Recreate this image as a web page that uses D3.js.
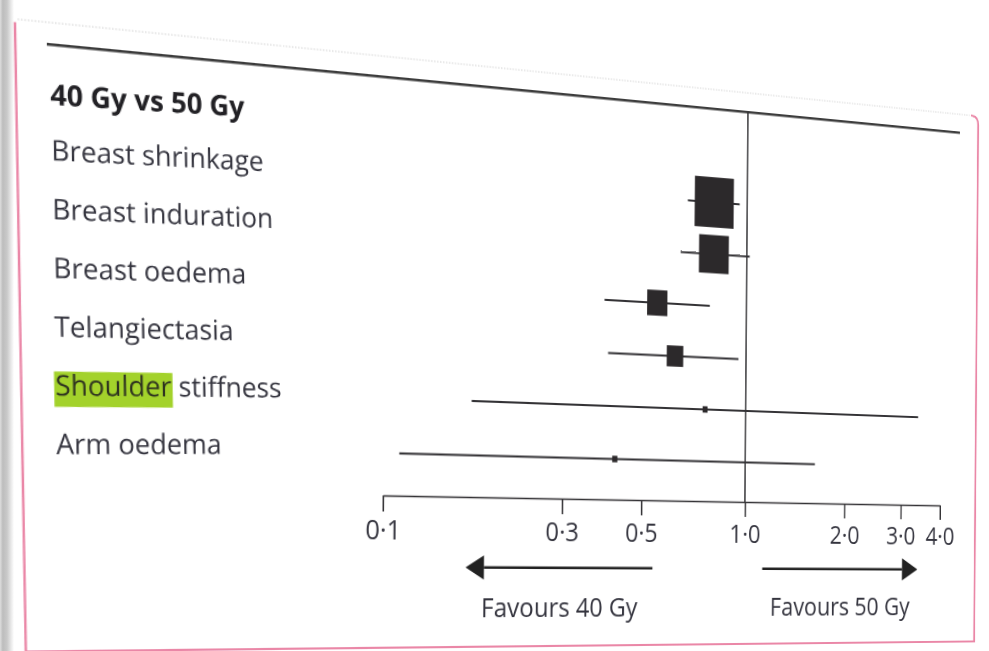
<!DOCTYPE html>
<html>
<head>
<meta charset="utf-8">
<script src="https://cdn.jsdelivr.net/npm/d3@7"></script>
<style>
  html, body { margin: 0; padding: 0; background: #fff; }
  #stage { position: relative; width: 989px; height: 651px; overflow: hidden; background: #fff; }
  #shade { position: absolute; left: 0; top: 0; }
  #page { position: absolute; left: 0; top: 0; transform-origin: 0 0; }
  text { font-family: "Open Sans", "Noto Sans", sans-serif; }
</style>
</head>
<body>
<div id="stage">
  <svg id="shade" width="989" height="651"></svg>
  <svg id="page" width="1060" height="690"></svg>
</div>
<script>
// Late normal-tissue effects, 40 Gy vs 50 Gy: hazard ratios with 95% CI
const comparison = "40 Gy vs 50 Gy";
const outcomes = ["Breast shrinkage", "Breast induration", "Breast oedema", "Telangiectasia", "Shoulder stiffness", "Arm oedema"];
const hazardRatio = [0.80, 0.80, 0.55, 0.62, 0.76, 0.42];
const ciLower = [0.67, 0.64, 0.39, 0.40, 0.17, 0.11];
const ciUpper = [0.95, 1.02, 0.78, 0.95, 3.39, 1.62];
const weights = [24.8, 14.4, 6.35, 4.3, 0.4, 0.4];
const tickValues = [0.1, 0.3, 0.5, 1, 2, 3, 4];
const tickLabels = ["0·1", "0·3", "0·5", "1·0", "2·0", "3·0", "4·0"];
const favourLabels = ["Favours 40 Gy", "Favours 50 Gy"];
const favourSpans = [[0.54, 0.165], [1.13, 3.4]];
const highlightWord = "Shoulder";

const rows = outcomes.map((o, i) => ({
  name: o, hr: hazardRatio[i], lo: ciLower[i], hi: ciUpper[i], w: weights[i]
}));

// The printed page is seen at an angle: a projective map from page space to screen.
const H = [[1, -0.00785, 3.94], [0.104, 1, -77.5], [0.000176, 0, 0.869]];
d3.select("#page").style("transform",
  `matrix3d(${H[0][0]},${H[1][0]},0,${H[2][0]},${H[0][1]},${H[1][1]},0,${H[2][1]},0,0,1,0,${H[0][2]},${H[1][2]},0,${H[2][2]})`);

// Soft shadow along the left edge of the sheet
const shade = d3.select("#shade");
const grad = shade.append("defs").append("linearGradient").attr("id", "edge")
  .attr("x1", 0).attr("x2", 1).attr("y1", 0).attr("y2", 0);
[[0, "#dedede"], [0.2, "#bdbdbd"], [0.5, "#c9c9c9"], [1, "#ffffff"]]
  .forEach(([o, c]) => grad.append("stop").attr("offset", o).attr("stop-color", c));
shade.append("rect").attr("x", 0).attr("y", 0).attr("width", 14).attr("height", 651).attr("fill", "url(#edge)");

const svg = d3.select("#page");
const ink = "#343336";
const pink = "#ea87a7";
const textInk = "#35353f";

// Page layout (page units)
const ruleY = 112.3, axisY = 502, tickLen = 15;
const labelX = 46, titleY = 165;

const x = d3.scaleLog().domain([0.1, 4]).range([356.8, 978.7]);
const y = d3.scalePoint().domain(outcomes).range([205, 462.5]);
const side = d3.scaleSqrt().domain([0, 25]).range([0, 50]);
const boxAspect = 0.89;

// Sheet border
svg.append("line").attr("x1", 12).attr("x2", 1012).attr("y1", 93).attr("y2", 93)
  .attr("stroke", "#d4d4d4").attr("stroke-width", 1).attr("stroke-dasharray", "1.5,1.5");
svg.append("path")
  .attr("d", "M1014,93 Q1023,93 1023,102 L1023,644 L23,644")
  .attr("fill", "none").attr("stroke", pink).attr("stroke-width", 2.2);

// Top rule and line of no effect
svg.append("line").attr("x1", 38).attr("x2", 1000).attr("y1", ruleY).attr("y2", ruleY)
  .attr("stroke", "#3d3d3d").attr("stroke-width", 2.6);
svg.append("line").attr("x1", x(1)).attr("x2", x(1)).attr("y1", ruleY).attr("y2", axisY)
  .attr("stroke", ink).attr("stroke-width", 1.6);

// Axis
const axis = svg.append("g").attr("transform", `translate(0,${axisY})`)
  .call(d3.axisBottom(x).tickValues(tickValues)
    .tickFormat((d, i) => tickLabels[i]).tickSize(tickLen).tickSizeOuter(0));
axis.select(".domain").attr("stroke", ink).attr("stroke-width", 1.6);
axis.selectAll(".tick line").attr("stroke", ink).attr("stroke-width", 1.6);
axis.selectAll(".tick text").attr("y", 41.5).attr("dy", null)
  .attr("font-family", "'Open Sans', sans-serif").attr("font-size", 25.5).attr("fill", textInk);

// Confidence intervals and point estimates
const marks = svg.append("g");
marks.selectAll("line.ci").data(rows).join("line").attr("class", "ci")
  .attr("x1", d => x(d.lo)).attr("x2", d => x(d.hi))
  .attr("y1", d => y(d.name)).attr("y2", d => y(d.name))
  .attr("stroke", ink).attr("stroke-width", 2);
marks.selectAll("rect.est").data(rows).join("rect").attr("class", "est")
  .attr("x", d => x(d.hr) - side(d.w) * boxAspect / 2)
  .attr("y", d => y(d.name) - side(d.w) / 2)
  .attr("width", d => side(d.w) * boxAspect)
  .attr("height", d => side(d.w))
  .attr("fill", "#2c292b");

// Direction arrows
const arrowY = axisY + 66.7, headLen = 19, headHalf = 11.5;
favourSpans.forEach(([from, to], i) => {
  const x0 = x(from), x1 = x(to), dir = Math.sign(x1 - x0);
  svg.append("line").attr("x1", x0).attr("x2", x1 - dir * headLen)
    .attr("y1", arrowY).attr("y2", arrowY).attr("stroke", "#222").attr("stroke-width", 2.4);
  svg.append("path")
    .attr("d", `M${x1},${arrowY} L${x1 - dir * headLen},${arrowY - headHalf} L${x1 - dir * headLen},${arrowY + headHalf} Z`)
    .attr("fill", "#222");
  svg.append("text").attr("x", (x0 + x1) / 2).attr("y", axisY + 114.5)
    .attr("text-anchor", "middle").attr("font-size", 25.5).attr("fill", textInk)
    .text(favourLabels[i]);
});

// Label column (set slightly rising on the sheet)
const labels = svg.append("g").attr("transform", `rotate(-1.45, ${labelX}, 340)`);
labels.append("line").attr("x1", 16).attr("x2", 16).attr("y1", 95).attr("y2", 645)
  .attr("stroke", pink).attr("stroke-width", 2.2);
labels.append("text").attr("x", labelX).attr("y", titleY)
  .attr("font-size", 25.5).attr("font-weight", 700).attr("fill", "#222125")
  .text(comparison);

const marksLayer = labels.append("g");
const textLayer = labels.append("g");
rows.forEach(d => {
  const base = y(d.name) + 8.5;
  const t = textLayer.append("text").attr("x", labelX).attr("y", base)
    .attr("font-size", 25).attr("fill", textInk);
  if (d.name.startsWith(highlightWord)) {
    t.append("tspan").text(highlightWord);
    t.append("tspan").text(d.name.slice(highlightWord.length));
    const w = t.node().getSubStringLength(0, highlightWord.length);
    marksLayer.append("rect").attr("x", labelX - 1).attr("y", base - 21)
      .attr("width", w + 2).attr("height", 31).attr("fill", "#a3d22b");
    t.select("tspan").attr("fill", "#2e3320");
  } else {
    t.text(d.name);
  }
});
</script>
</body>
</html>
